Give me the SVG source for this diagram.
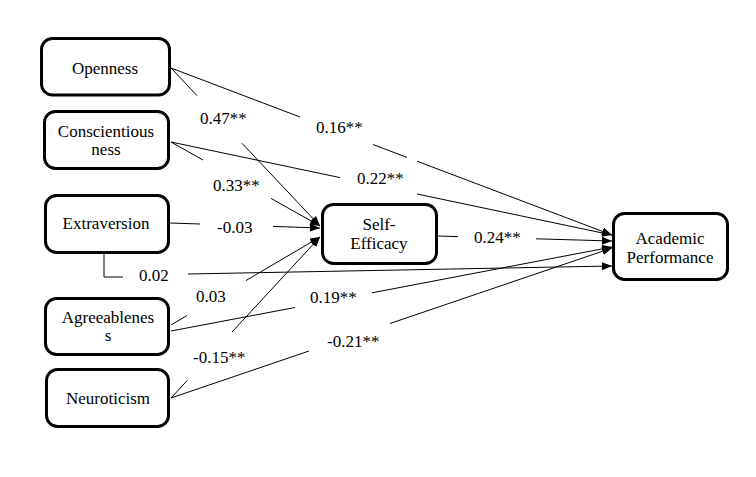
<svg xmlns="http://www.w3.org/2000/svg" width="756" height="477" viewBox="0 0 756 477" font-family="'Liberation Serif', Tinos, 'Times New Roman', Times, serif">
<defs>
<marker id="ah" viewBox="0 0 10 8" refX="10" refY="4" markerWidth="10" markerHeight="8" markerUnits="userSpaceOnUse" orient="auto">
<path d="M0,0 L10,4 L0,8 z" fill="#000"/>
</marker>
<style>
.box{fill:#fff;stroke:#000;stroke-width:3}
.t{font-family:'Liberation Serif',Tinos,'Times New Roman',Times,serif;font-size:17px;fill:#000;text-anchor:middle}
.l{font-family:'Liberation Serif',Tinos,'Times New Roman',Times,serif;font-size:17px;fill:#000}
.c{fill:none;stroke:#000;stroke-width:1}
</style>
</defs>
<rect width="756" height="477" fill="#fff"/>
<g id="connectors">
<line class="c" x1="171" y1="68" x2="300" y2="117"/>
<line class="c" x1="373" y1="144.5" x2="407" y2="157.4"/>
<line class="c" x1="417" y1="161.2" x2="612" y2="235" marker-end="url(#ah)"/>
<line class="c" x1="171" y1="142" x2="340" y2="177.6"/>
<line class="c" x1="417" y1="194" x2="612" y2="235" marker-end="url(#ah)"/>
<line class="c" x1="171" y1="68" x2="197" y2="95.6"/>
<line class="c" x1="242" y1="143.3" x2="320" y2="226" marker-end="url(#ah)"/>
<line class="c" x1="171" y1="142" x2="203" y2="160"/>
<line class="c" x1="271" y1="198.4" x2="320" y2="226" marker-end="url(#ah)"/>
<line class="c" x1="170" y1="223" x2="200" y2="224"/>
<line class="c" x1="273" y1="226.4" x2="320" y2="228" marker-end="url(#ah)"/>
<polyline class="c" points="104,254 104,277 123,277"/>
<line class="c" x1="188" y1="274" x2="612" y2="266" marker-end="url(#ah)"/>
<line class="c" x1="171" y1="325" x2="187" y2="315.5"/>
<line class="c" x1="246" y1="280.5" x2="320" y2="237" marker-end="url(#ah)"/>
<line class="c" x1="171" y1="331" x2="295" y2="307.5"/>
<line class="c" x1="372" y1="292.8" x2="612" y2="247" marker-end="url(#ah)"/>
<line class="c" x1="171" y1="398" x2="187" y2="380.7"/>
<line class="c" x1="232" y1="332" x2="320" y2="237" marker-end="url(#ah)"/>
<line class="c" x1="171" y1="398" x2="309" y2="351"/>
<line class="c" x1="390" y1="323.5" x2="612" y2="248" marker-end="url(#ah)"/>
<line class="c" x1="438" y1="236" x2="458" y2="236.6"/>
<line class="c" x1="536" y1="238.8" x2="612" y2="241" marker-end="url(#ah)"/>
</g>
<g id="labels">
<text class="l" x="200" y="124">0.47**</text>
<text class="l" x="316" y="133">0.16**</text>
<text class="l" x="213" y="191">0.33**</text>
<text class="l" x="357" y="184">0.22**</text>
<text class="l" x="217" y="233">-0.03</text>
<text class="l" x="474" y="243">0.24**</text>
<text class="l" x="139" y="281">0.02</text>
<text class="l" x="196" y="302">0.03</text>
<text class="l" x="310" y="303">0.19**</text>
<text class="l" x="327" y="347">-0.21**</text>
<text class="l" x="193" y="363">-0.15**</text>
</g>
<g id="openness">
<rect class="box" x="41.5" y="38.5" width="128" height="56.5" rx="11"/>
<text class="t" x="105" y="74">Openness</text>
</g>
<g id="conscientiousness">
<rect class="box" x="44.5" y="111.5" width="124" height="57" rx="11"/>
<text class="t" x="106" y="137">Conscientious</text>
<text class="t" x="106" y="155">ness</text>
</g>
<g id="extraversion">
<rect class="box" x="45.5" y="195.5" width="123" height="57" rx="11"/>
<text class="t" x="106" y="229">Extraversion</text>
</g>
<g id="agreeableness">
<rect class="box" x="45.5" y="298.5" width="123" height="56" rx="11"/>
<text class="t" x="108" y="323">Agreeablenes</text>
<text class="t" x="108" y="341">s</text>
</g>
<g id="neuroticism">
<rect class="box" x="46.5" y="369.5" width="122" height="57" rx="11"/>
<text class="t" x="108" y="404">Neuroticism</text>
</g>
<g id="self-efficacy">
<rect class="box" x="322.5" y="204.5" width="114" height="59" rx="11"/>
<text class="t" x="379" y="230">Self-</text>
<text class="t" x="379" y="249">Efficacy</text>
</g>
<g id="academic-performance">
<rect class="box" x="613.5" y="213.5" width="114" height="66" rx="11"/>
<text class="t" x="670" y="244">Academic</text>
<text class="t" x="670" y="263">Performance</text>
</g>
</svg>
